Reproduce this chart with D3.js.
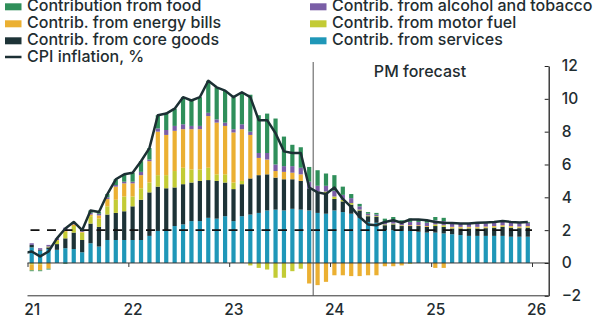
<!DOCTYPE html>
<html>
<head>
<meta charset="utf-8">
<script src="https://cdn.jsdelivr.net/npm/d3@7"></script>
<style>
	body { margin: 0; background: #fff; }
	svg { display: block; font-family: Inter, "DejaVu Sans", sans-serif; font-weight: 500; }
</style>
</head>
<body>
<div id="chart"></div>
<script>
// monthly contributions to UK CPI inflation, Jan 2021 - Dec 2025 (percentage points)
const services = [
	0.95, 0.75, 0.85, 0.8, 0.9, 0.85, 0.65, 1.2, 1.0, 1.4, 1.4, 1.4,
	1.4, 1.4, 1.65, 1.95, 2.0, 2.25, 2.35, 2.55, 2.55, 2.75, 2.7, 2.85,
	2.55, 2.85, 2.95, 3.05, 3.2, 3.25, 3.2, 3.3, 3.25, 3.2, 3.05, 3.0,
	3.2, 3.1, 3.0, 2.75, 2.5, 2.45, 2.0, 2.0, 1.95, 1.95, 1.9, 1.85,
	1.85, 1.8, 1.75, 1.7, 1.65, 1.65, 1.65, 1.65, 1.65, 1.6, 1.6, 1.6
];
const coreGoods = [
	0.15, 0.05, 0.1, 0.35, 0.6, 1.0, 0.75, 1.2, 1.2, 1.55, 1.65, 1.75,
	2.05, 2.45, 2.65, 2.7, 2.55, 2.35, 2.45, 2.35, 2.45, 2.3, 2.3, 2.05,
	1.95, 1.95, 2.2, 2.3, 2.2, 1.95, 1.9, 1.8, 1.75, 1.35, 1.3, 1.25,
	0.7, 0.65, 0.55, 0.45, 0.35, 0.35, 0.3, 0.35, 0.3, 0.3, 0.35, 0.35,
	0.4, 0.4, 0.35, 0.4, 0.45, 0.45, 0.47, 0.5, 0.55, 0.55, 0.52, 0.55
];
const motorFuel = [
	-0.1, -0.1, 0.05, 0.2, 0.4, 0.4, 0.45, 0.45, 0.5, 0.5, 0.8, 0.9,
	0.6, 0.7, 0.6, 0.7, 0.8, 1.0, 1.0, 0.8, 0.7, 0.75, 0.4, 0.5,
	0.4, 0.2, -0.15, -0.3, -0.4, -0.9, -0.9, -0.5, -0.35, 0, 0, 0.1,
	0.15, 0.1, 0.1, 0.05, 0.05, 0.05, 0.05, 0.05, 0.05, -0.05, 0, 0,
	0.1, 0.1, 0.05, 0.05, 0.05, 0.05, 0.05, 0.05, 0.05, 0.05, 0.05, 0.05
];
const energyBills = [
	-0.35, -0.35, -0.35, 0.05, 0.1, 0.1, 0.05, 0.1, 0.2, 0.45, 0.8, 0.8,
	0.8, 0.8, 1.3, 2.65, 2.45, 2.45, 2.35, 2.45, 2.45, 3.15, 3.15, 2.95,
	3.05, 3.15, 2.65, 1.05, 0.9, 0.4, 0.45, 0.4, 0.4, -1.25, -1.35, -1.15,
	-0.75, -0.75, -0.8, -0.8, -0.75, -0.75, -0.2, -0.2, -0.15, 0.05, 0.05, 0.05,
	-0.3, -0.3, 0.05, 0.05, 0.05, 0.05, 0.05, 0.05, 0.05, 0.05, 0.05, 0.05
];
const alcoholTobacco = [
	0.1, 0.1, 0.1, 0.1, 0.15, 0.1, 0.1, 0.1, 0.1, 0.1, 0.1, 0.1,
	0.1, 0.2, 0.1, 0.2, 0.3, 0.3, 0.3, 0.2, 0.2, 0.2, 0.2, 0.2,
	0.2, 0.3, 0.2, 0.3, 0.4, 0.4, 0.35, 0.4, 0.4, 0.4, 0.35, 0.35,
	0.35, 0.3, 0.3, 0.2, 0.1, 0.1, 0.2, 0.2, 0.2, 0.2, 0.2, 0.2,
	0.25, 0.25, 0.2, 0.2, 0.2, 0.2, 0.2, 0.2, 0.2, 0.2, 0.2, 0.2
];
const food = [
	-0.05, -0.05, -0.05, 0, -0.05, 0.05, 0, 0.15, 0.1, 0.2, 0.35, 0.45,
	0.55, 0.65, 0.7, 0.8, 1.0, 1.05, 1.65, 1.55, 1.75, 1.95, 1.95, 1.95,
	1.95, 1.95, 2.25, 2.3, 2.4, 2.8, 1.8, 1.3, 1.25, 0.9, 0.95, 0.75,
	0.95, 0.5, 0.25, 0.15, 0.1, 0.1, 0.15, 0.2, 0.1, 0.2, 0.15, 0.15,
	0.2, 0.2, 0.03, 0, 0, 0.05, 0.05, 0.05, 0.05, 0.05, 0.05, 0.05
];
// headline CPI, Dec 2020 - Dec 2025 (%)
const cpi = [
	0.6,
	0.7, 0.4, 0.7, 1.5, 2.1, 2.5, 2.0, 3.2, 3.1, 4.2, 5.1, 5.4,
	5.5, 6.2, 7.0, 9.0, 9.1, 9.4, 10.1, 9.9, 10.1, 11.1, 10.7, 10.5,
	10.1, 10.4, 10.1, 8.7, 8.7, 7.9, 6.8, 6.7, 6.7, 4.6, 4.3, 4.2,
	4.6, 3.9, 3.4, 2.8, 2.35, 2.3, 2.5, 2.6, 2.45, 2.65, 2.65, 2.6,
	2.5, 2.45, 2.43, 2.4, 2.4, 2.45, 2.47, 2.5, 2.55, 2.5, 2.47, 2.5
];
const years = [2021, 2022, 2023, 2024, 2025, 2026];
const yTicks = [-2, 0, 2, 4, 6, 8, 10, 12];
const target = 2;
const forecastStart = new Date(2023, 10, 1);

const series = [
	{key: "services", name: "Contrib. from services", color: "#1f97b8", values: services},
	{key: "coreGoods", name: "Contrib. from core goods", color: "#1d3337", values: coreGoods},
	{key: "motorFuel", name: "Contrib. from motor fuel", color: "#c3cb35", values: motorFuel},
	{key: "energyBills", name: "Contrib. from energy bills", color: "#ebb032", values: energyBills},
	{key: "alcoholTobacco", name: "Contrib. from alcohol and tobacco", color: "#7a5ea6", values: alcoholTobacco},
	{key: "food", name: "Contribution from food", color: "#2f8f5a", values: food}
];
const months = d3.timeMonth.range(new Date(2021, 0, 1), new Date(2026, 0, 1));
const table = months.map((m, i) => {
	const row = {month: m};
	for (const s of series) {
		row[s.key] = s.values[i];
	}
	return row;
});

const width = 612;
const height = 336;
const ink = "#1f2d31";

const svg = d3.select("#chart")
	.append("svg")
		.attr("width", width)
		.attr("height", height);

// scales
const x = d3.scaleBand()
	.domain(months)
	.range([27.5, 532])
	.paddingInner(0.5)
	.paddingOuter(0.25);
const xYear = d3.scaleTime()
	.domain([new Date(2021, 0, 1), new Date(2026, 0, 1)])
	.range([27.5, 532]);
const xMid = d => x(d) + x.bandwidth() / 2;
const y = d3.scaleLinear()
	.domain([-2, 12])
	.range([295.8, 66]);

// stacked bars
const stacked = d3.stack()
	.keys(series.map(s => s.key))
	.offset(d3.stackOffsetDiverging)(table);

svg.append("g")
	.selectAll("g")
	.data(stacked)
	.join("g")
		.attr("fill", (d, i) => series[i].color)
	.selectAll("rect")
	.data(d => d)
	.join("rect")
		.attr("x", d => x(d.data.month))
		.attr("width", x.bandwidth())
		.attr("y", d => y(Math.max(d[0], d[1])))
		.attr("height", d => Math.abs(y(d[0]) - y(d[1])));

// zero line with year ticks
svg.append("line")
	.attr("x1", xYear.range()[0])
	.attr("x2", 548.7)
	.attr("y1", y(0))
	.attr("y2", y(0))
	.attr("stroke", "#333")
	.attr("stroke-width", 1);
svg.append("g")
	.attr("transform", `translate(0,${y(0)})`)
	.call(d3.axisBottom(xYear)
		.tickValues(years.map(yr => new Date(yr, 0, 1)))
		.tickSize(4)
		.tickFormat(""))
	.call(g => g.select(".domain").remove())
	.call(g => g.selectAll("line").attr("stroke", "#333"));

// bottom axis with year labels
const bottom = svg.append("g")
	.attr("transform", `translate(0,${y(-2)})`)
	.call(d3.axisBottom(xYear)
		.tickValues(years.map(yr => new Date(yr, 0, 1)))
		.tickSize(0)
		.tickPadding(8)
		.tickFormat(d3.timeFormat("%y")));
bottom.select(".domain").remove();
bottom.selectAll("text")
	.attr("dx", x.step() / 2)
	.attr("font-family", "Inter, sans-serif")
	.attr("font-weight", 500)
	.attr("font-size", 15.5)
	.attr("fill", ink);
svg.append("line")
	.attr("x1", xYear.range()[0])
	.attr("x2", 548.7)
	.attr("y1", y(-2))
	.attr("y2", y(-2))
	.attr("stroke", "#333")
	.attr("stroke-width", 1);

// right axis
const right = svg.append("g")
	.attr("transform", "translate(548.7,0)")
	.call(d3.axisRight(y)
		.tickValues(yTicks)
		.tickSizeInner(-4)
		.tickSizeOuter(0)
		.tickPadding(13));
right.select(".domain").attr("stroke", "#222").attr("stroke-width", 1.3);
right.selectAll("line").attr("stroke", "#222");
right.selectAll("text")
	.attr("font-family", "Inter, sans-serif")
	.attr("font-weight", 500)
	.attr("font-size", 15.5)
	.attr("fill", ink);

// 2% target
svg.append("line")
	.attr("x1", xYear.range()[0] + 3)
	.attr("x2", xYear.range()[1])
	.attr("y1", y(target))
	.attr("y2", y(target))
	.attr("stroke", "#111")
	.attr("stroke-width", 1.8)
	.attr("stroke-dasharray", "9,7.5");

// forecast divider
svg.append("line")
	.attr("x1", xYear(forecastStart))
	.attr("x2", xYear(forecastStart))
	.attr("y1", 62)
	.attr("y2", y(-2))
	.attr("stroke", "#555")
	.attr("stroke-width", 1);
svg.append("text")
	.attr("x", 420)
	.attr("y", 77)
	.attr("text-anchor", "middle")
	.attr("font-size", 16)
	.attr("fill", ink)
	.text("PM forecast");

// CPI line
svg.append("clipPath")
	.attr("id", "plot-clip")
	.append("rect")
		.attr("x", xYear.range()[0])
		.attr("y", 0)
		.attr("width", width)
		.attr("height", height);
const line = d3.line()
	.x((d, i) => xMid(months[0]) + (i - 1) * x.step())
	.y(d => y(d));
svg.append("path")
	.datum(cpi)
	.attr("clip-path", "url(#plot-clip)")
	.attr("d", line)
	.attr("fill", "none")
	.attr("stroke", "#1c3034")
	.attr("stroke-width", 2.5)
	.attr("stroke-linejoin", "round");

// legend
const legendItems = [
	{s: series[5], col: 0, row: 0},
	{s: series[3], col: 0, row: 1},
	{s: series[1], col: 0, row: 2},
	{s: series[4], col: 1, row: 0},
	{s: series[2], col: 1, row: 1},
	{s: series[0], col: 1, row: 2}
];
const colX = [5, 310];
const rowY = [11.3, 28.3, 45.3, 62];
const legend = svg.append("g");
legend.selectAll("rect")
	.data(legendItems)
	.join("rect")
		.attr("x", d => colX[d.col])
		.attr("y", d => rowY[d.row] - 8)
		.attr("width", 16.5)
		.attr("height", 7)
		.attr("fill", d => d.s.color);
legend.selectAll("text")
	.data(legendItems)
	.join("text")
		.attr("x", d => colX[d.col] + 22)
		.attr("y", d => rowY[d.row])
		.attr("font-size", 16)
		.attr("fill", ink)
		.text(d => d.s.name);
legend.append("line")
	.attr("x1", colX[0])
	.attr("x2", colX[0] + 16.5)
	.attr("y1", rowY[3] - 5)
	.attr("y2", rowY[3] - 5)
	.attr("stroke", "#1c3034")
	.attr("stroke-width", 2.5);
legend.append("text")
	.attr("x", colX[0] + 22)
	.attr("y", rowY[3])
	.attr("font-size", 16)
	.attr("fill", ink)
	.text("CPI inflation, %");
</script>
</body>
</html>
